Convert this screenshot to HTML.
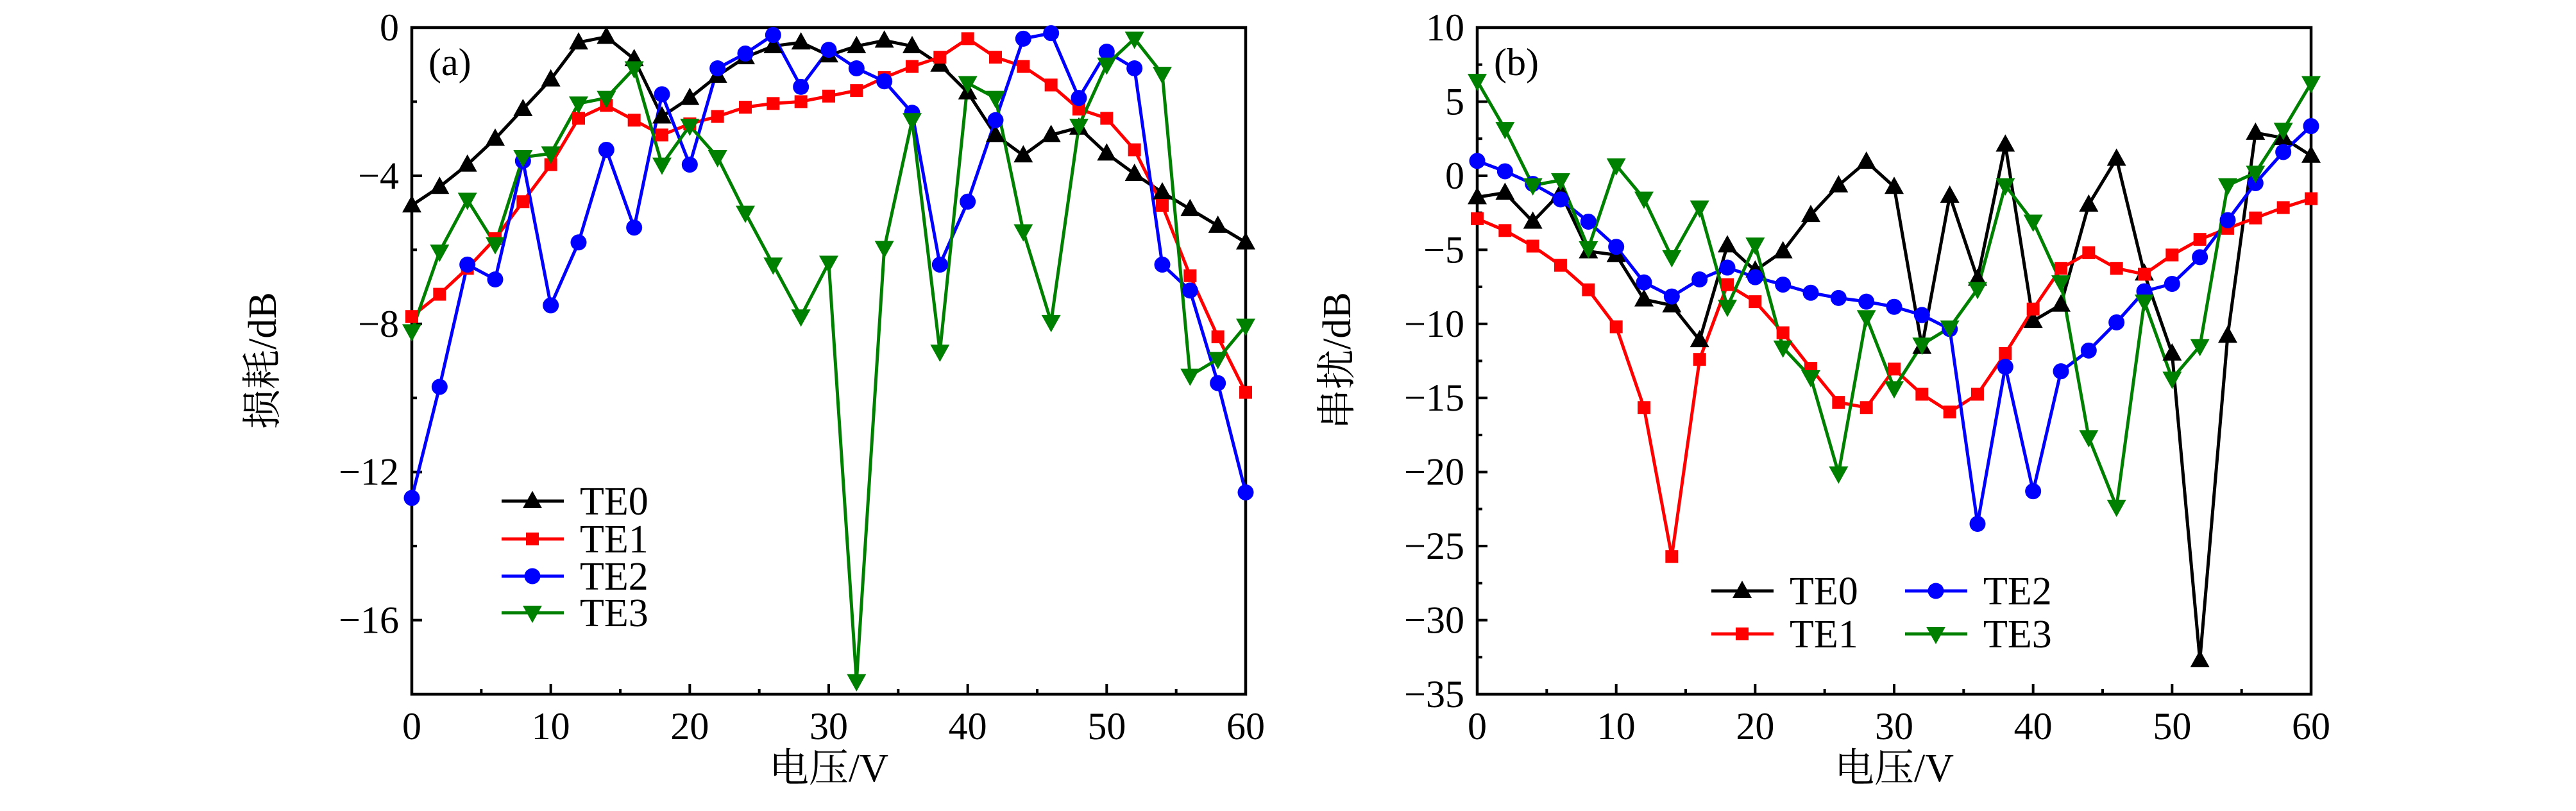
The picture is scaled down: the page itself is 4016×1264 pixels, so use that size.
<!DOCTYPE html>
<html><head><meta charset="utf-8"><style>
html,body{margin:0;padding:0;background:#fff;}
svg{display:block;}
svg text{font-family:"Liberation Serif","DejaVu Serif","Noto Serif CJK SC",serif !important;}
</style></head><body>
<svg id="s" width="4016" height="1264" viewBox="0 0 4016 1264" xmlns="http://www.w3.org/2000/svg"></svg>
<script>
const S=document.getElementById('s');
let h='';
const FF=`style="font-family:'Liberation Serif','DejaVu Serif','Noto Serif CJK SC',serif"`;
const A={x0:642,x1:1942,y0:43,y1:1082,ymax:0,ymin:-18};
const B={x0:2303,x1:3603,y0:43,y1:1082,ymax:10,ymin:-35};
function X(p,v){return p.x0+(v/60)*(p.x1-p.x0);}
function Y(p,v){return p.y0+(p.ymax-v)/(p.ymax-p.ymin)*(p.y1-p.y0);}
const cols=['#000','#f00','#00f','#008000'];
function marker(t,x,y,c){
 if(t==0) return `<polygon points="${x},${y-16} ${x+15},${y+11} ${x-15},${y+11}" fill="${c}"/>`;
 if(t==1) return `<rect x="${x-10}" y="${y-10}" width="20" height="20" fill="${c}"/>`;
 if(t==2) return `<circle cx="${x}" cy="${y}" r="12.5" fill="${c}"/>`;
 return `<polygon points="${x},${y+16} ${x+15},${y-11} ${x-15},${y-11}" fill="${c}"/>`;
}
function series(p,data){
 data.forEach((d,i)=>{
  let pts=d.map((v,k)=>X(p,k*2).toFixed(1)+','+Y(p,v).toFixed(1)).join(' ');
  h+=`<polyline points="${pts}" fill="none" stroke="${cols[i]}" stroke-width="5"/>`;
 });
 data.forEach((d,i)=>{d.forEach((v,k)=>{h+=marker(i,X(p,k*2),Y(p,v),cols[i]);});});
}
function axes(p,ymaj,ymin){
 h+=`<rect x="${p.x0}" y="${p.y0}" width="${p.x1-p.x0}" height="${p.y1-p.y0}" fill="none" stroke="#000" stroke-width="4.5"/>`;
 for(let v=0;v<=60;v+=5){let x=X(p,v),L=v%10==0?16:8;
  h+=`<line x1="${x}" y1="${p.y1}" x2="${x}" y2="${p.y1-L}" stroke="#000" stroke-width="4"/>`;
  if(v%10==0)h+=`<text ${FF} x="${x}" y="${p.y1+70}" font-size="60" text-anchor="middle">${v}</text>`;}
 for(let v=p.ymin;v<=p.ymax+0.01;v+=ymin){let y=Y(p,v);let maj=Math.abs(v/ymaj-Math.round(v/ymaj))<1e-6;
  h+=`<line x1="${p.x0}" y1="${y}" x2="${p.x0+(maj?16:8)}" y2="${y}" stroke="#000" stroke-width="4"/>`;}
 for(let v=p.ymax;v>=p.ymin-0.01;v-=ymaj){if(v<p.ymin)break;let y=Y(p,v);
  let s=v<0?'\u2212'+(-v):''+v;
  h+=`<text ${FF} x="${p.x0-20}" y="${y+20}" font-size="60" text-anchor="end">${s}</text>`;}
 let cx=(p.x0+p.x1)/2;
 h+=`<text ${FF} x="${cx}" y="1218" font-size="62" text-anchor="middle">电压/V</text>`;
}
axes(A,4,2);
axes(B,5,2.5);
h+=`<text ${FF} x="0" y="0" font-size="62" text-anchor="middle" transform="translate(430,562) rotate(-90)">损耗/dB</text>`;
h+=`<text ${FF} x="0" y="0" font-size="62" text-anchor="middle" transform="translate(2105,562) rotate(-90)">串扰/dB</text>`;
h+=`<text ${FF} x="668" y="117" font-size="60">(a)</text>`;
h+=`<text ${FF} x="2329" y="117" font-size="60">(b)</text>`;
const a=[
[-4.8,-4.3,-3.7,-3.0,-2.2,-1.4,-0.4,-0.25,-0.85,-2.4,-1.9,-1.3,-0.8,-0.5,-0.4,-0.75,-0.5,-0.35,-0.5,-1.0,-1.75,-2.9,-3.45,-2.9,-2.7,-3.4,-3.95,-4.45,-4.9,-5.35,-5.8],
[-7.8,-7.2,-6.5,-5.7,-4.7,-3.7,-2.45,-2.1,-2.5,-2.9,-2.6,-2.4,-2.15,-2.05,-2.0,-1.85,-1.7,-1.35,-1.05,-0.8,-0.3,-0.8,-1.05,-1.55,-2.2,-2.45,-3.3,-4.8,-6.7,-8.35,-9.85],
[-12.7,-9.7,-6.4,-6.8,-3.6,-7.5,-5.8,-3.3,-5.4,-1.8,-3.7,-1.1,-0.7,-0.2,-1.6,-0.6,-1.1,-1.45,-2.3,-6.4,-4.7,-2.5,-0.3,-0.15,-1.9,-0.65,-1.1,-6.4,-7.1,-9.6,-12.55],
[-8.2,-6.05,-4.65,-5.85,-3.5,-3.4,-2.05,-1.9,-1.1,-3.7,-2.65,-3.5,-5.0,-6.4,-7.8,-6.35,-17.65,-5.95,-2.5,-8.75,-1.5,-1.9,-5.5,-7.95,-2.65,-1.0,-0.3,-1.25,-9.4,-8.95,-8.05]];
const b=[
[-1.45,-1.15,-3.1,-1.15,-5.1,-5.35,-8.35,-8.75,-11.1,-4.7,-6.4,-5.1,-2.65,-0.65,0.95,-0.75,-11.55,-1.35,-6.95,2.1,-9.8,-8.7,-1.95,1.15,-6.6,-12.0,-32.7,-10.8,2.9,2.55,1.35],
[-2.9,-3.7,-4.75,-6.05,-7.7,-10.2,-15.65,-25.7,-12.4,-7.35,-8.5,-10.6,-13.0,-15.3,-15.65,-13.05,-14.75,-15.95,-14.75,-12.0,-9.0,-6.25,-5.2,-6.25,-6.65,-5.35,-4.3,-3.55,-2.85,-2.15,-1.55],
[1.0,0.3,-0.55,-1.6,-3.1,-4.8,-7.2,-8.15,-7.0,-6.2,-6.85,-7.35,-7.9,-8.25,-8.5,-8.85,-9.4,-10.35,-23.5,-12.9,-21.3,-13.2,-11.8,-9.9,-7.8,-7.3,-5.5,-3.0,-0.5,1.6,3.35],
[6.4,3.15,-0.65,-0.3,-4.9,0.7,-1.55,-5.5,-2.15,-8.85,-4.65,-11.6,-13.6,-20.1,-9.55,-14.35,-11.4,-10.25,-7.65,-0.65,-3.1,-7.2,-17.65,-22.35,-8.5,-13.7,-11.5,-0.65,0.2,3.1,6.25]];
series(A,a);series(B,b);
function leg(i,x,y,t){
 h+=`<line x1="${x}" y1="${y}" x2="${x+97}" y2="${y}" stroke="${cols[i]}" stroke-width="5"/>`;
 h+=marker(i,x+48,y,cols[i]);
 h+=`<text ${FF} x="${x+122}" y="${y+21}" font-size="62">${t}</text>`;
}
leg(0,782,781,'TE0');leg(1,782,840,'TE1');leg(2,782,898,'TE2');leg(3,782,955,'TE3');
leg(0,2668,921,'TE0');leg(1,2668,988,'TE1');leg(2,2970,921,'TE2');leg(3,2970,988,'TE3');
S.innerHTML=h;
</script>
</body></html>
